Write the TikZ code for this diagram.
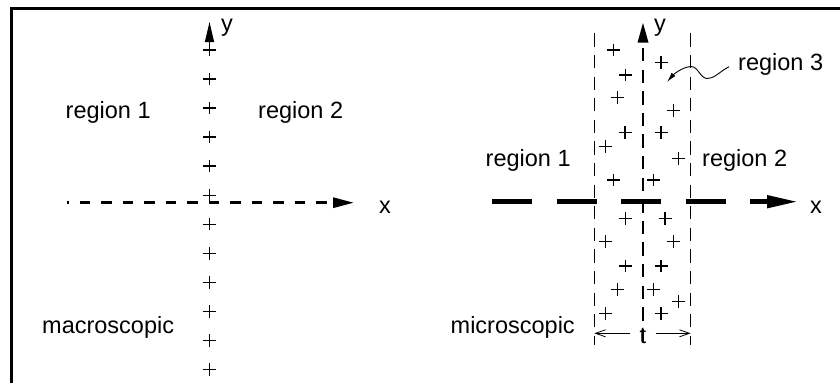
\documentclass[tikz,border=0pt]{standalone}
\usepackage{fontspec}
\setmainfont{Liberation Sans}
\usetikzlibrary{arrows.meta}
\begin{document}
\begin{tikzpicture}[x=1pt,y=-1pt,
  lbl/.style={inner sep=0pt, anchor=base west, font=\fontsize{23.5}{28}\selectfont},
  plusmark/.style={line width=1.3pt},
  vdash/.style={line width=1.3pt, dash pattern=on 13.3pt off 8.3pt},
  thinaxis/.style={line width=3pt, dash pattern=on 10.5pt off 11pt, dash phase=9pt,
    -{Triangle[length=21pt,width=10pt]}},
  thickaxis/.style={line width=4.5pt, dash pattern=on 40pt off 24.5pt,
    -{Triangle[length=31pt,width=12pt]}},
  dim/.style={line width=0.8pt, -{Straight Barb[length=10pt,width=7pt]}},
  leader/.style={line width=0.9pt, -{Latex[length=10pt,width=5pt]}}]
\useasboundingbox (0,0) rectangle (840,383);
% frame
\draw[line width=3pt] (11.7,383) -- (11.7,8.7) -- (840,8.7);

% ---------- left panel ----------
\foreach \k in {0,...,11}
  \draw[plusmark] (209.5,{50+29.03*\k}) ++(-6.5,0) -- ++(13,0)
                  (209.5,{50+29.03*\k}) ++(0,-6.3) -- ++(0,12.6);
\coordinate (xLs) at (67,202.7);
\coordinate (xLe) at (354,202.7);
\draw[thinaxis] (xLs) -- (xLe);
\coordinate (yLs) at (209.5,50);
\coordinate (yLe) at (209.5,22);
\draw[line width=1.3pt, -{Triangle[length=20pt,width=9pt]}] (yLs) -- (yLe);
\node[lbl] (xL) at (379,213.3) {x};
\node[lbl] (yL) at (221,31.3) {y};
\node[lbl] (r1L) at (65.5,118.3) {region 1};
\node[lbl] (r2L) at (258,118.3) {region 2};
\node[lbl] (macro) at (42,333.3) {macroscopic};

% ---------- right panel ----------
\coordinate (v1t) at (594.3,33.3); \coordinate (v1b) at (594.3,345);
\coordinate (v2t) at (643,48);     \coordinate (v2b) at (643,345);
\coordinate (v3t) at (690.7,33.3); \coordinate (v3b) at (690.7,345);
\draw[vdash] (v1t) -- (v1b);
\draw[vdash] (v2t) -- (v2b);
\draw[vdash] (v3t) -- (v3b);
\fill (643,23) -- (648.5,42.5) -- (637.5,42.5) -- cycle;
\coordinate (xRs) at (492,201.7);
\coordinate (xRe) at (798,201.7);
\draw[thickaxis] (xRs) -- (xRe);

\foreach \x/\y in {613.3/50, 625.7/75, 617.3/97.7, 625/132.3, 605.7/146.7, 613.3/180,
                   625.7/218.3, 605.7/241.7, 625.7/266, 617.3/289.3, 605.7/313.3,
                   661/62.3, 673.3/110.7, 661/132.3, 678.3/158.3, 653.3/180,
                   665/218.3, 673.3/241.7, 661/266, 653.3/289.3, 678.3/301.7, 661/313.3}
  \draw[plusmark] (\x,\y) ++(-6.5,0) -- ++(13,0) (\x,\y) ++(0,-6.3) -- ++(0,12.6);

\node[lbl] (yR) at (654,31) {y};
\node[lbl] (xR) at (810,213.3) {x};
\node[lbl] (r1R) at (485.5,166) {region 1};
\node[lbl] (r2R) at (702,166) {region 2};
\node[lbl] (r3) at (738,70) {region 3};
\node[lbl] (micro) at (450.5,333.3) {microscopic};
\node[lbl, anchor=base] (t) at (643,343.3) {t};

\coordinate (dl) at (594.3,333.3);
\coordinate (dr) at (690.7,333.3);
\draw[dim] (630,333.3) -- (dl);
\draw[dim] (655.5,333.3) -- (dr);

\coordinate (ltip) at (667,82);
\draw[leader] ([xshift=-9pt,yshift=3.3pt]r3.base west)
  .. controls (719,72) and (714,79) .. (707,78.5)
  .. controls (700,78) and (698,66.5) .. (691,66.5)
  .. controls (682,67) and (673,75) .. (ltip);
\end{tikzpicture}
\end{document}
